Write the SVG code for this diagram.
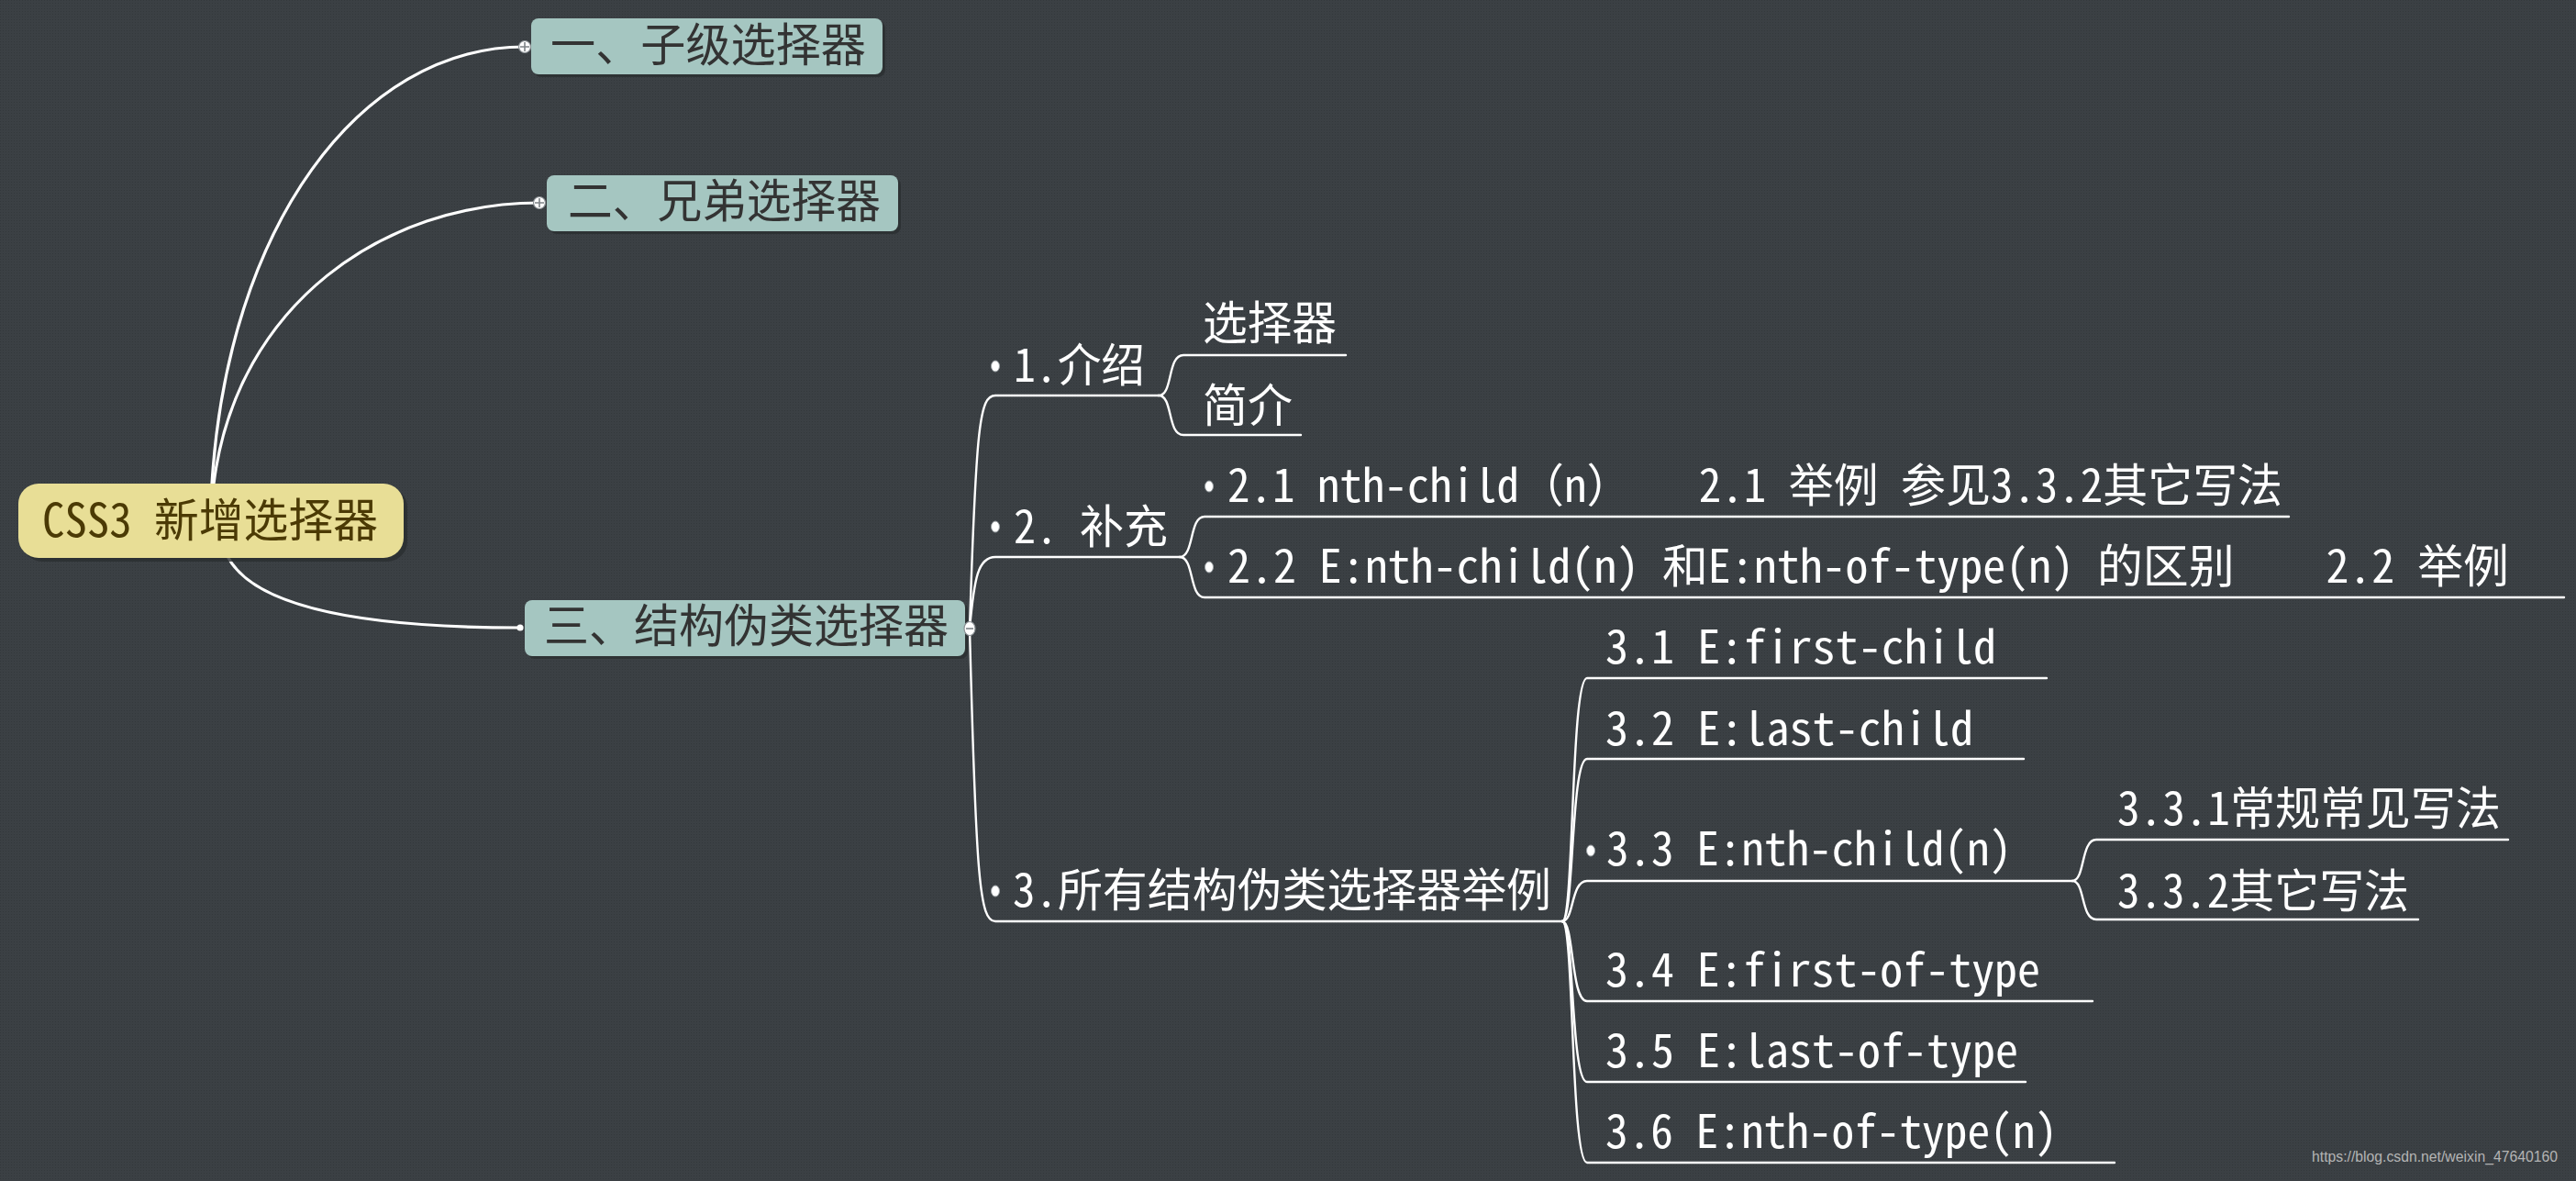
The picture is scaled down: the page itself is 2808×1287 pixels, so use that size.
<svg xmlns="http://www.w3.org/2000/svg" width="2808" height="1287" viewBox="0 0 2808 1287">
<defs>
<pattern id="dots" width="3" height="3" patternUnits="userSpaceOnUse">
<rect width="3" height="3" fill="#3b4044"/>
<rect width="1" height="1" fill="#33383b"/>
</pattern>
<style>
.bg{fill:url(#dots)}
.main{fill:none;stroke:#ffffff;stroke-width:3.2;stroke-linecap:round}
.br{fill:none;stroke:#ffffff;stroke-width:2.4;stroke-linecap:round}
.box{fill:#a5c6c1}
.root{fill:#e8de96}
.shadow{fill:#2a2e31;opacity:0.8}
.bt{font-family:"Noto Sans Mono CJK SC","Liberation Mono","Noto Sans CJK SC",monospace;font-size:50px;fill:#333333;white-space:pre}
.rt{font-family:"Noto Sans Mono CJK SC","Liberation Mono","Noto Sans CJK SC",monospace;font-size:50px;fill:#4b3a05;white-space:pre}
.t{font-family:"Noto Sans Mono CJK SC","Liberation Mono","Noto Sans CJK SC",monospace;font-size:50px;fill:#ffffff;white-space:pre}
.wm{font-family:"Liberation Sans",Arial,sans-serif;font-size:17px;fill:#b4b4b4}
.bullet{fill:#ffffff;stroke:#9aa0a4;stroke-width:1}
.mk{fill:#ffffff;stroke:#8c9296;stroke-width:1.2}
.mkl{stroke:#7d8387;stroke-width:1.6}
</style>
</defs>
<rect class="bg" x="0" y="0" width="2808" height="1287"/>

<g id="connectors">
<path class="main" d="M231,527 C248,250 390,51 572,51"/>
<path class="main" d="M233,527 C258,330 420,221 588,221"/>
<path class="main" d="M249,608 C282,668 420,684 567,684"/>
<path class="br" d="M1057,685 C1064,462 1068,431 1085,431 L1263,431"/>
<path class="br" d="M1057,685 C1062,630 1066,607 1085,607 L1286,607"/>
<path class="br" d="M1057,685 C1064,960 1068,1004 1085,1004 L1703,1004"/>
<path class="br" d="M1263,431 C1279,431 1272,387 1290,387 L1467,387"/>
<path class="br" d="M1263,431 C1279,431 1272,474 1290,474 L1418,474"/>
<path class="br" d="M1286,607 C1302,607 1296,563 1313,563 L2495,563"/>
<path class="br" d="M1286,607 C1302,607 1296,651 1313,651 L2795,651"/>
<path class="br" d="M1703,1004 C1716,1004 1712,739 1730,739 L2231,739"/>
<path class="br" d="M1703,1004 C1716,1004 1712,827 1730,827 L2206,827"/>
<path class="br" d="M1703,1004 C1716,1004 1712,960 1730,960 L2259,960"/>
<path class="br" d="M1703,1004 C1716,1004 1712,1091 1730,1091 L2281,1091"/>
<path class="br" d="M1703,1004 C1716,1004 1712,1179 1730,1179 L2208,1179"/>
<path class="br" d="M1703,1004 C1716,1004 1712,1267 1730,1267 L2305,1267"/>
<path class="br" d="M2259,960 C2273,960 2268,915 2285,915 L2734,915"/>
<path class="br" d="M2259,960 C2273,960 2268,1002 2285,1002 L2636,1002"/>
</g>

<g id="root">
<rect class="shadow" x="24" y="531" width="420" height="81" rx="22"/>
<rect class="root" x="20" y="527" width="420" height="81" rx="22"/>
<text class="rt" x="46" y="585" textLength="366" lengthAdjust="spacingAndGlyphs">CSS3 新增选择器</text>
</g>

<g id="n1">
<rect class="shadow" x="582" y="23" width="383" height="61" rx="8"/>
<rect class="box" x="579" y="20" width="383" height="61" rx="8"/>
<text class="bt" x="600" y="67" textLength="344" lengthAdjust="spacingAndGlyphs">一、子级选择器</text>
<circle class="mk" cx="572" cy="51" r="6.5"/>
<path class="mkl" d="M567,51 H577 M572,46 V56"/>
</g>

<g id="n2">
<rect class="shadow" x="599" y="194" width="383" height="61" rx="8"/>
<rect class="box" x="596" y="191" width="383" height="61" rx="8"/>
<text class="bt" x="619" y="237" textLength="341" lengthAdjust="spacingAndGlyphs">二、兄弟选择器</text>
<circle class="mk" cx="588" cy="221" r="6.5"/>
<path class="mkl" d="M583,221 H593 M588,216 V226"/>
</g>

<g id="n3">
<rect class="shadow" x="575" y="657" width="480" height="61" rx="8"/>
<rect class="box" x="572" y="654" width="480" height="61" rx="8"/>
<text class="bt" x="593" y="700" textLength="441" lengthAdjust="spacingAndGlyphs">三、结构伪类选择器</text>
<circle cx="567" cy="684" r="3.6" fill="#ffffff"/>
<ellipse class="mk" cx="1057" cy="685" rx="6" ry="7.5"/>
<path class="mkl" d="M1053,685 H1061"/>
</g>

<g id="b1">
<ellipse class="bullet" cx="1085" cy="399" rx="4.5" ry="6"/>
<text class="t" x="1105" y="416" textLength="143" lengthAdjust="spacingAndGlyphs">1.介绍</text>
</g>
<g id="b1a">
<text class="t" x="1311" y="370" textLength="146" lengthAdjust="spacingAndGlyphs">选择器</text>
</g>
<g id="b1b">
<text class="t" x="1311" y="460" textLength="98" lengthAdjust="spacingAndGlyphs">简介</text>
</g>

<g id="b2">
<ellipse class="bullet" cx="1085" cy="574" rx="4.5" ry="6"/>
<text class="t" x="1105" y="592" textLength="168" lengthAdjust="spacingAndGlyphs">2. 补充</text>
</g>
<g id="b21">
<ellipse class="bullet" cx="1318" cy="530" rx="4.5" ry="6"/>
<text class="t" x="1338" y="547" textLength="1150" lengthAdjust="spacingAndGlyphs">2.1 nth-child（n）   2.1 举例 参见3.3.2其它写法</text>
</g>
<g id="b22">
<ellipse class="bullet" cx="1318" cy="618" rx="4.5" ry="6"/>
<text class="t" x="1338" y="635" textLength="1397" lengthAdjust="spacingAndGlyphs">2.2 E:nth-child(n) 和E:nth-of-type(n) 的区别    2.2 举例</text>
</g>

<g id="b3">
<ellipse class="bullet" cx="1085" cy="971" rx="4.5" ry="6"/>
<text class="t" x="1104" y="988" textLength="587" lengthAdjust="spacingAndGlyphs">3.所有结构伪类选择器举例</text>
</g>
<g id="b31">
<text class="t" x="1750" y="723" textLength="426" lengthAdjust="spacingAndGlyphs">3.1 E:first-child</text>
</g>
<g id="b32">
<text class="t" x="1750" y="812" textLength="401" lengthAdjust="spacingAndGlyphs">3.2 E:last-child</text>
</g>
<g id="b33">
<ellipse class="bullet" cx="1734" cy="927" rx="4.5" ry="6"/>
<text class="t" x="1751" y="943" textLength="442" lengthAdjust="spacingAndGlyphs">3.3 E:nth-child(n)</text>
</g>
<g id="b331">
<text class="t" x="2308" y="899" textLength="418" lengthAdjust="spacingAndGlyphs">3.3.1常规常见写法</text>
</g>
<g id="b332">
<text class="t" x="2308" y="989" textLength="318" lengthAdjust="spacingAndGlyphs">3.3.2其它写法</text>
</g>
<g id="b34">
<text class="t" x="1750" y="1075" textLength="474" lengthAdjust="spacingAndGlyphs">3.4 E:first-of-type</text>
</g>
<g id="b35">
<text class="t" x="1750" y="1163" textLength="450" lengthAdjust="spacingAndGlyphs">3.5 E:last-of-type</text>
</g>
<g id="b36">
<text class="t" x="1750" y="1251" textLength="493" lengthAdjust="spacingAndGlyphs">3.6 E:nth-of-type(n)</text>
</g>

<text class="wm" x="2520" y="1266" textLength="268" lengthAdjust="spacingAndGlyphs">https://blog.csdn.net/weixin_47640160</text>
</svg>
